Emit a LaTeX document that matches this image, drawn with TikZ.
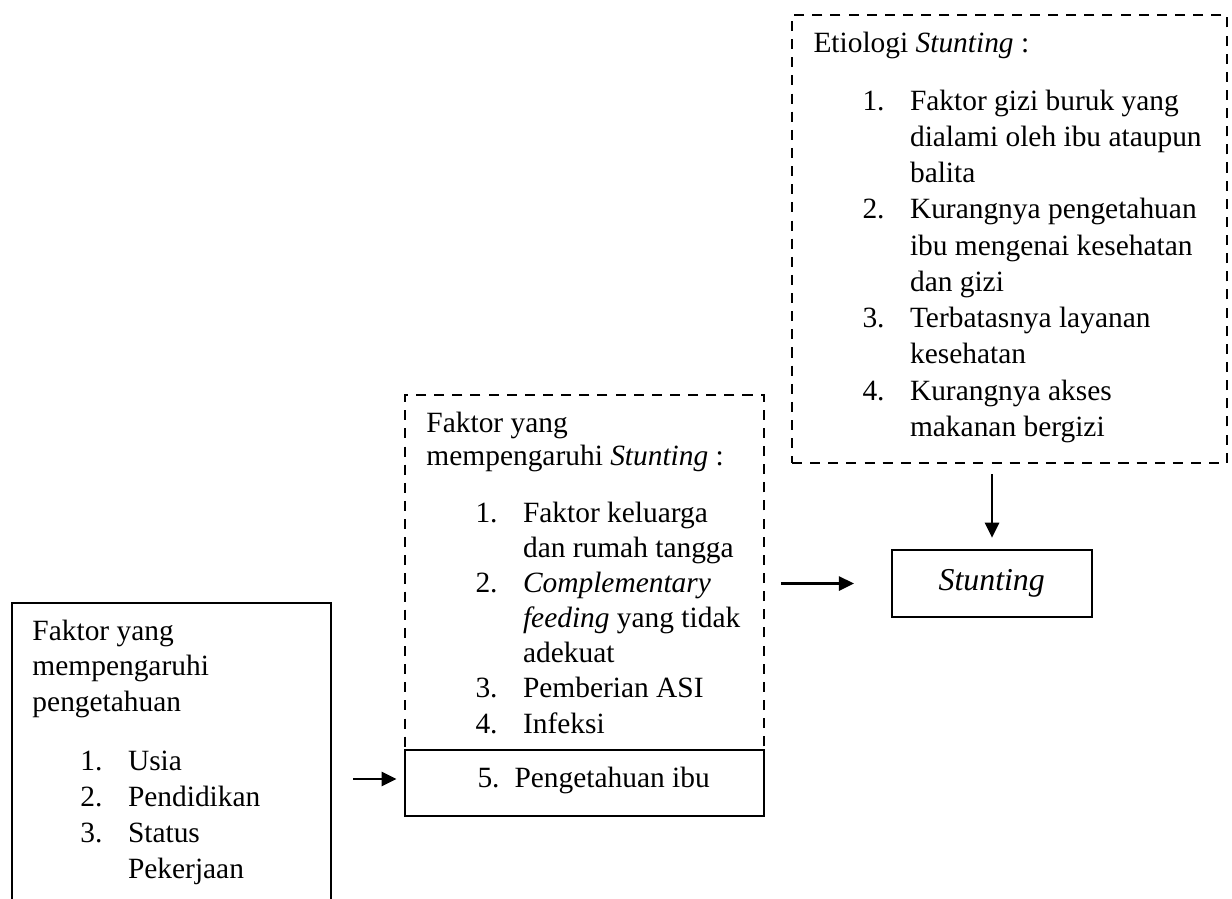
\documentclass[tikz,border=0pt]{standalone}
\usepackage{fontspec}
\setmainfont{Liberation Serif}
\usepackage{array}
\usetikzlibrary{arrows.meta,fit,calc}

\begin{document}
\begin{tikzpicture}[x=0.408pt, y=-0.408pt, >={Triangle[length=6.1pt,width=5.8pt]},
    dashbox/.style={draw, dash pattern=on 4.1pt off 3.3pt, line width=0.85pt, inner sep=0pt},
    solidbox/.style={draw, line width=1.1pt, inner sep=0pt},
    txt/.style={anchor=base west, inner sep=0pt},
    arr/.style={->, line width=0.85pt}]

  %% Background
  \useasboundingbox (0,0) rectangle (1232,898);
  \clip (0,0) rectangle (1232,898);

  % Kotak
  \node[dashbox, fit={(792,15) (1227,463)}] (etio) {};
  \node[dashbox, fit={(405,395) (764,750)}] (faktor) {};
  \node[solidbox, fit={(405,750) (764,816)}] (ibu) {};
  \node[solidbox, fit={(892,550) (1092,617)}] (stunt) {};
  \node[solidbox, fit={(12,603) (331,930)}] (tahu) {};

  % Etiologi Stunting
  \node[txt, font=\fontsize{12}{14.8}\selectfont] (etiojudul) at (813,52) {Etiologi \textit{Stunting} :};
  \node[txt, font=\fontsize{12}{14.8}\selectfont] (etiodaftar) at (862,110) {%
    \begin{tabular}[t]{@{}p{19.4pt}@{}l@{}}
      1. & Faktor gizi buruk yang\\
         & dialami oleh ibu ataupun\\
         & balita\\
      2. & Kurangnya pengetahuan\\
         & ibu mengenai kesehatan\\
         & dan gizi\\
      3. & Terbatasnya layanan\\
         & kesehatan\\
      4. & Kurangnya akses\\
         & makanan bergizi
    \end{tabular}};

  % Faktor yang mempengaruhi Stunting
  \node[txt, font=\fontsize{12}{13.6}\selectfont] (faktorjudul) at (426,432) {%
    \begin{tabular}[t]{@{}l@{}}
      Faktor yang\\
      mempengaruhi \textit{Stunting} :
    \end{tabular}};
  \node[txt, font=\fontsize{12}{14.36}\selectfont] (faktordaftar) at (475,522) {%
    \begin{tabular}[t]{@{}p{19.4pt}@{}l@{}}
      1. & Faktor keluarga\\
         & dan rumah tangga\\
      2. & \textit{Complementary}\\
         & \textit{feeding} yang tidak\\
         & adekuat\\
      3. & Pemberian ASI\\
      4. & Infeksi
    \end{tabular}};
  \node[txt, font=\fontsize{12}{14}\selectfont] (ibutxt) at (477,787) {\makebox[15.1pt][l]{5.}Pengetahuan ibu};

  % Stunting
  \node[anchor=base, inner sep=0pt, font=\fontsize{13}{15}\selectfont\itshape] (stunttxt) at (991.7,590) {Stunting};

  % Faktor yang mempengaruhi pengetahuan
  \node[txt, font=\fontsize{12}{14.6}\selectfont] (tahujudul) at (32,640) {%
    \begin{tabular}[t]{@{}l@{}}
      Faktor yang\\
      mempengaruhi\\
      pengetahuan
    \end{tabular}};
  \node[txt, font=\fontsize{12}{14.7}\selectfont] (tahudaftar) at (80,770) {%
    \begin{tabular}[t]{@{}p{19.4pt}@{}l@{}}
      1. & Usia\\
      2. & Pendidikan\\
      3. & Status\\
         & Pekerjaan
    \end{tabular}};

  % Panah
  \draw[arr, shorten <=8.6pt, shorten >=2.9pt] ($(tahu.east |- ibu.west)+(0,-4)$) -- ($(ibu.west)+(0,-4)$);
  \draw[arr, shorten <=6.5pt, shorten >=15pt] (faktor.east |- stunt.west) -- (stunt.west);
  \draw[arr, shorten <=4.1pt, shorten >=4.5pt] (etio.south -| stunt.north) -- (stunt.north);

\end{tikzpicture}
\end{document}
